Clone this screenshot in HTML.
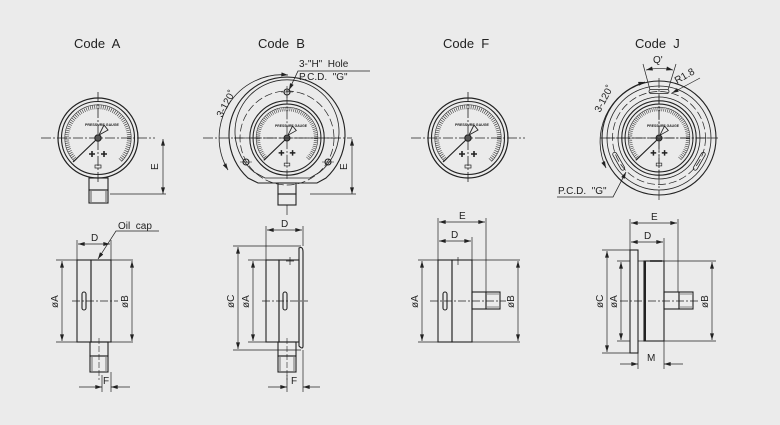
<!DOCTYPE html>
<html><head><meta charset="utf-8"><style>
html,body{margin:0;padding:0;background:#ebebeb;}
svg{display:block;font-family:"Liberation Sans",sans-serif;}
</style></head><body>
<svg width="780" height="425" viewBox="0 0 780 425" xmlns="http://www.w3.org/2000/svg">
<defs>
<marker id="ar" viewBox="0 0 10 6" refX="10" refY="3" markerWidth="8" markerHeight="4" orient="auto-start-reverse" markerUnits="userSpaceOnUse"><path d="M0,0L10,3L0,6z" fill="#222"/></marker>
<g id="dial">
<circle r="40" fill="none" stroke="#222" stroke-width="1.2"/>
<circle r="36.5" fill="none" stroke="#222" stroke-width="1.1"/>
<path d="M-22,22 A31,31 0 1 1 22,22" fill="none" stroke="#333" stroke-width="4" stroke-dasharray="0.6 1.5"/>
<path d="M-23.5,23.5 A33.2,33.2 0 1 1 23.5,23.5" fill="none" stroke="#333" stroke-width="0.6"/>
<line x1="-57" y1="0" x2="57" y2="0" stroke="#222" stroke-width="0.8" stroke-dasharray="10 2 2 2"/>
<line x1="0" y1="-46" x2="0" y2="46" stroke="#222" stroke-width="0.8" stroke-dasharray="10 2 2 2"/>
<line x1="0" y1="0" x2="-25" y2="24" stroke="#222" stroke-width="1.2"/>
<path d="M1,-3 L6,-13 L10,-8 z" fill="#ebebeb" stroke="#222" stroke-width="0.9"/>
<circle r="3.2" fill="#555" stroke="#222"/>
<path d="M-6,13v6M-9,16h6M6,13v6M3,16h6" stroke="#222" stroke-width="1.6"/>
<rect x="-3" y="27" width="6" height="3" fill="none" stroke="#222" stroke-width="0.7"/>
</g>
</defs>
<g font-size="13" fill="#222">
<text x="74" y="48">Code&#160; A</text>
<text x="258" y="48">Code&#160; B</text>
<text x="443" y="48">Code&#160; F</text>
<text x="635" y="48">Code&#160; J</text>
</g>
<g stroke="#222" fill="none" stroke-width="1.1">
<!-- Code A front -->
<g transform="translate(98,138)"><use href="#dial"/><text x="-13" y="-12" font-size="3.6" fill="#222" stroke="none" font-weight="bold">PRESSURE GAUGE</text></g>
<rect x="89" y="178" width="19" height="12"/>
<rect x="89" y="190" width="19" height="13"/>
<path d="M91,191v11M106,191v11" stroke-width="0.7"/>
<line x1="110" y1="194" x2="166" y2="194" stroke-width="0.7"/>
<line x1="163" y1="139" x2="163" y2="194" stroke-width="0.7" marker-start="url(#ar)" marker-end="url(#ar)"/>
<!-- Code B front -->
<g transform="translate(287,138)"><use href="#dial" transform="scale(0.93)"/><text x="-12" y="-11" font-size="3.4" fill="#222" stroke="none" font-weight="bold">PRESSURE GAUGE</text></g>
<path d="M258,183 L317,183 L326,178 A58,58 0 1 0 248,178 Z"/>
<path d="M265,178 L310,178 L320,172 A52,52 0 1 0 254,172 Z" stroke-width="0.8"/>
<circle cx="287" cy="138" r="47" stroke-width="0.7" stroke-dasharray="8 3"/>
<circle cx="287" cy="92" r="3"/><circle cx="246" cy="162" r="3"/><circle cx="328" cy="162" r="3"/>
<path d="M287,86v12M281,92h12M240,162h12M322,162h12" stroke-width="0.6"/>
<line x1="203" y1="138" x2="352" y2="138" stroke-width="0.7" stroke-dasharray="10 2 2 2"/>
<rect x="278" y="183" width="18" height="11"/>
<rect x="278" y="194" width="18" height="11"/>
<line x1="287" y1="205" x2="287" y2="215" stroke-width="0.7"/>
<line x1="310" y1="194" x2="356" y2="194" stroke-width="0.7"/>
<line x1="352" y1="139" x2="352" y2="194" stroke-width="0.7" marker-start="url(#ar)" marker-end="url(#ar)"/>
<path d="M228,170 A63,63 0 0 1 288,75" stroke-width="0.8" marker-start="url(#ar)" marker-end="url(#ar)"/>
<path d="M289,90 L298,71 L370,71" stroke-width="0.8" marker-start="url(#ar)"/>
<!-- Code F front -->
<g transform="translate(468,138)"><use href="#dial"/><text x="-13" y="-12" font-size="3.6" fill="#222" stroke="none" font-weight="bold">PRESSURE GAUGE</text></g>
<!-- Code J front -->
<g transform="translate(659,138)"><use href="#dial" transform="scale(0.93)"/><text x="-12" y="-11" font-size="3.4" fill="#222" stroke="none" font-weight="bold">PRESSURE GAUGE</text></g>
<circle cx="659" cy="138" r="57"/>
<circle cx="659" cy="138" r="52" stroke-width="0.8"/>
<circle cx="659" cy="138" r="46.5" stroke-width="0.7" stroke-dasharray="8 3"/>
<circle cx="659" cy="138" r="41" stroke-width="0.8"/>
<line x1="600" y1="138" x2="718" y2="138" stroke-width="0.7" stroke-dasharray="10 2 2 2"/>
<line x1="659" y1="78" x2="659" y2="200" stroke-width="0.7" stroke-dasharray="10 2 2 2"/>
<g stroke-width="0.8">
<rect x="649" y="89.5" width="20" height="4" rx="2"/>
<rect x="649" y="89.5" width="20" height="4" rx="2" transform="rotate(-120 659 138)"/>
<rect x="649" y="89.5" width="20" height="4" rx="2" transform="rotate(120 659 138)"/>
</g>
<path d="M643,64 L650,90 M676,64 L668,90" stroke-width="0.7"/>
<path d="M646,70 A60,60 0 0 1 673,70" stroke-width="0.7" marker-start="url(#ar)" marker-end="url(#ar)"/>
<path d="M672,93 L700,78" stroke-width="0.7" marker-start="url(#ar)"/>
<path d="M606,168 A62,62 0 0 1 645,82" stroke-width="0.8" marker-start="url(#ar)" marker-end="url(#ar)"/>
<path d="M626,172 L613,197 L557,197" stroke-width="0.8" marker-start="url(#ar)"/>
</g>
<g font-size="10" fill="#222">
<text x="158" y="170" transform="rotate(-90 158 170)">E</text>
<text x="347" y="170" transform="rotate(-90 347 170)">E</text>
<text x="299" y="67">3-"H"&#160; Hole</text>
<text x="299" y="80">P.C.D.&#160; "G"</text>
<text x="222" y="118" transform="rotate(-62 222 118)">3-120˚</text>
<text x="653" y="63">Q'</text>
<text x="677" y="84" transform="rotate(-30 677 84)">R1.8</text>
<text x="600" y="113" transform="rotate(-62 600 113)">3-120˚</text>
<text x="558" y="194">P.C.D.&#160; "G"</text>
</g>

<!-- SIDE VIEWS -->
<g stroke="#222" fill="none" stroke-width="1.1">
<!-- A -->
<rect x="77" y="260" width="14" height="82"/>
<rect x="91" y="260" width="20" height="82"/>
<rect x="82" y="292" width="4" height="18" rx="2"/>
<line x1="72" y1="301" x2="118" y2="301" stroke-width="0.7" stroke-dasharray="8 2 2 2"/>
<path d="M56,260h21M111,260h22M56,342h21M111,342h22" stroke-width="0.7"/>
<line x1="62" y1="261" x2="62" y2="341" stroke-width="0.7" marker-start="url(#ar)" marker-end="url(#ar)"/>
<line x1="132" y1="261" x2="132" y2="341" stroke-width="0.7" marker-start="url(#ar)" marker-end="url(#ar)"/>
<path d="M77,240v20M111,240v20" stroke-width="0.7"/>
<line x1="78" y1="244" x2="110" y2="244" stroke-width="0.7" marker-start="url(#ar)" marker-end="url(#ar)"/>
<path d="M98,259 L116,231 L159,231" stroke-width="0.7" marker-start="url(#ar)"/>
<rect x="90" y="342" width="18" height="14"/>
<rect x="90" y="356" width="18" height="16"/>
<path d="M92,357v14M106,357v14" stroke-width="0.6"/>
<line x1="99" y1="338" x2="99" y2="380" stroke-width="0.6" stroke-dasharray="6 2"/>
<path d="M111,372v20M102,375v17" stroke-width="0.7"/>
<line x1="79" y1="387" x2="102" y2="387" stroke-width="0.7" marker-end="url(#ar)"/>
<line x1="130" y1="387" x2="111" y2="387" stroke-width="0.7" marker-end="url(#ar)"/>
<!-- B -->
<rect x="266" y="260" width="13" height="82"/>
<rect x="279" y="260" width="20" height="82"/>
<path d="M299,248 Q303,246 303,252 L303,346 Q303,350 299,346 Z"/>
<rect x="283" y="292" width="4" height="18" rx="2"/>
<line x1="290" y1="257" x2="290" y2="265" stroke-width="0.7"/><line x1="286" y1="261" x2="294" y2="261" stroke-width="0.7"/>
<line x1="262" y1="301" x2="308" y2="301" stroke-width="0.7" stroke-dasharray="8 2 2 2"/>
<path d="M233,246h68M233,350h68M248,260h18M248,342h18" stroke-width="0.7"/>
<line x1="238" y1="247" x2="238" y2="349" stroke-width="0.7" marker-start="url(#ar)" marker-end="url(#ar)"/>
<line x1="253" y1="261" x2="253" y2="341" stroke-width="0.7" marker-start="url(#ar)" marker-end="url(#ar)"/>
<path d="M266,226v34M303,226v20" stroke-width="0.7"/>
<line x1="267" y1="230" x2="302" y2="230" stroke-width="0.7" marker-start="url(#ar)" marker-end="url(#ar)"/>
<rect x="278" y="342" width="18" height="14"/>
<rect x="278" y="356" width="18" height="16"/>
<path d="M280,357v14M294,357v14" stroke-width="0.6"/>
<line x1="287" y1="338" x2="287" y2="380" stroke-width="0.6" stroke-dasharray="6 2"/>
<path d="M303,350v42M287,375v17" stroke-width="0.7"/>
<line x1="268" y1="387" x2="287" y2="387" stroke-width="0.7" marker-end="url(#ar)"/>
<line x1="320" y1="387" x2="303" y2="387" stroke-width="0.7" marker-end="url(#ar)"/>
<!-- F -->
<rect x="438" y="260" width="14" height="82"/>
<rect x="452" y="260" width="20" height="82"/>
<rect x="443" y="292" width="4" height="18" rx="2"/>
<line x1="458" y1="257" x2="458" y2="265" stroke-width="0.7"/>
<rect x="472" y="292" width="14" height="17"/>
<rect x="486" y="292" width="14" height="17"/>
<path d="M487,294h12M487,307h12" stroke-width="0.6"/>
<line x1="430" y1="301" x2="506" y2="301" stroke-width="0.7" stroke-dasharray="8 2 2 2"/>
<path d="M418,260h20M472,260h48M418,342h20M472,342h48" stroke-width="0.7"/>
<line x1="422" y1="261" x2="422" y2="341" stroke-width="0.7" marker-start="url(#ar)" marker-end="url(#ar)"/>
<line x1="518" y1="261" x2="518" y2="341" stroke-width="0.7" marker-start="url(#ar)" marker-end="url(#ar)"/>
<path d="M438,218v42M472,237v23M486,218v74" stroke-width="0.7"/>
<line x1="439" y1="222" x2="485" y2="222" stroke-width="0.7" marker-start="url(#ar)" marker-end="url(#ar)"/>
<line x1="439" y1="241" x2="471" y2="241" stroke-width="0.7" marker-start="url(#ar)" marker-end="url(#ar)"/>
<!-- J -->
<rect x="630" y="250" width="8" height="103"/>
<rect x="644" y="261" width="20" height="80"/>
<line x1="645" y1="261" x2="645" y2="341" stroke-width="2"/>
<line x1="638" y1="261" x2="644" y2="261" stroke-width="0.7"/>
<line x1="638" y1="341" x2="644" y2="341" stroke-width="0.7"/>
<line x1="650" y1="261" x2="662" y2="261" stroke-width="1.6"/>
<rect x="664" y="292" width="15" height="17"/>
<rect x="679" y="292" width="14" height="17"/>
<path d="M680,294h12M680,307h12" stroke-width="0.6"/>
<line x1="620" y1="301" x2="700" y2="301" stroke-width="0.7" stroke-dasharray="8 2 2 2"/>
<path d="M602,250h28M602,353h28M617,261h13M617,341h13M664,261h52M664,341h52" stroke-width="0.7"/>
<line x1="607" y1="251" x2="607" y2="352" stroke-width="0.7" marker-start="url(#ar)" marker-end="url(#ar)"/>
<line x1="621" y1="262" x2="621" y2="340" stroke-width="0.7" marker-start="url(#ar)" marker-end="url(#ar)"/>
<line x1="712" y1="262" x2="712" y2="340" stroke-width="0.7" marker-start="url(#ar)" marker-end="url(#ar)"/>
<path d="M630,219v31M664,238v23M678,219v73M638,353v16M664,341v28" stroke-width="0.7"/>
<line x1="631" y1="223" x2="677" y2="223" stroke-width="0.7" marker-start="url(#ar)" marker-end="url(#ar)"/>
<line x1="631" y1="242" x2="663" y2="242" stroke-width="0.7" marker-start="url(#ar)" marker-end="url(#ar)"/>
<line x1="620" y1="364" x2="638" y2="364" stroke-width="0.7" marker-end="url(#ar)"/>
<line x1="683" y1="364" x2="664" y2="364" stroke-width="0.7" marker-end="url(#ar)"/>
</g>
<g font-size="10" fill="#222">
<text x="91" y="241">D</text>
<text x="118" y="229">Oil&#160; cap</text>
<text x="58" y="308" transform="rotate(-90 58 308)">øA</text>
<text x="128" y="308" transform="rotate(-90 128 308)">øB</text>
<text x="103" y="384">F</text>
<text x="281" y="227">D</text>
<text x="234" y="308" transform="rotate(-90 234 308)">øC</text>
<text x="249" y="308" transform="rotate(-90 249 308)">øA</text>
<text x="291" y="384">F</text>
<text x="459" y="219">E</text>
<text x="451" y="238">D</text>
<text x="418" y="308" transform="rotate(-90 418 308)">øA</text>
<text x="514" y="308" transform="rotate(-90 514 308)">øB</text>
<text x="651" y="220">E</text>
<text x="644" y="239">D</text>
<text x="603" y="308" transform="rotate(-90 603 308)">øC</text>
<text x="617" y="308" transform="rotate(-90 617 308)">øA</text>
<text x="708" y="308" transform="rotate(-90 708 308)">øB</text>
<text x="647" y="361">M</text>
</g>
</svg>
</body></html>
